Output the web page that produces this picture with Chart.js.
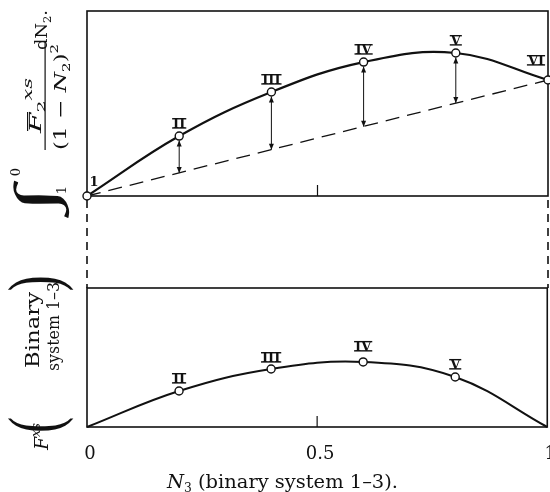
<!DOCTYPE html>
<html>
<head>
<meta charset="utf-8">
<script src="https://cdn.jsdelivr.net/npm/chart.js@4.4.0/dist/chart.umd.min.js"></script>
<style>
html, body { margin: 0; padding: 0; background: #fff; overflow: hidden; }
#wrap { position: relative; width: 550px; height: 492px; overflow: hidden; }
#wrap canvas { position: absolute; left: 0; top: 0; }
</style>
</head>
<body>
<div id="wrap">
  <canvas id="topChart" width="570" height="492"></canvas>
  <canvas id="bottomChart" width="570" height="492"></canvas>
</div>
<script>
// N3 positions of the measured mixtures (0 = pure 1, 1 = binary 1-3)
const n3 = [0, 0.2, 0.4, 0.6, 0.8, 1];
const pointNames = ['1', 'II', 'III', 'IV', 'V', 'VI'];

// upper panel: integral curve and the chord (dashed) from point 1 to VI
const integralValues = [0, 0.324, 0.562, 0.724, 0.773, 0.627];
const chordN = [0, 1];
const chordValues = [0, 0.627];
// arrows drop from the curve to the chord
const arrowN = [0.2, 0.4, 0.6, 0.8];
const arrowTop = [0.324, 0.562, 0.724, 0.773];
const arrowBottom = [0.124, 0.25, 0.375, 0.503];

// lower panel: F^xs of binary system 1-3
const binaryValues = [0, 0.259, 0.417, 0.468, 0.360, 0];
const binaryNames = ['', 'II', 'III', 'IV', 'V', ''];

const xTicks = [0, 0.5, 1];
const xTickLabels = ['0', '0.5', '1'];

const INK = '#111';
const SERIF = "'DejaVu Serif', serif";
const THIN = "'Liberation Serif', serif";
const bottomPanelTop = 288;

function pts(xs, ys) { return xs.map((x, i) => ({ x: x, y: ys[i] })); }

// draw a run of text pieces squeezed/stretched to a given width
function drawRun(ctx, parts, x0, width, baseline) {
    let total = 0;
    const ws = parts.map(p => { ctx.font = p.f; const w = ctx.measureText(p.t).width; total += w; return w; });
    ctx.save();
    ctx.translate(x0, baseline);
    ctx.scale(width / total, 1);
    let x = 0;
    parts.forEach((p, i) => { ctx.font = p.f; ctx.fillText(p.t, x, p.dy || 0); x += ws[i]; });
    ctx.restore();
}

// fit one glyph into a box
function fitGlyph(ctx, ch, font, x0, y0, x1, y1) {
    ctx.save();
    ctx.font = font;
    const m = ctx.measureText(ch);
    const gw = m.actualBoundingBoxLeft + m.actualBoundingBoxRight;
    const gh = m.actualBoundingBoxAscent + m.actualBoundingBoxDescent;
    ctx.translate(x0, y0);
    ctx.scale((x1 - x0) / gw, (y1 - y0) / gh);
    ctx.fillText(ch, m.actualBoundingBoxLeft, m.actualBoundingBoxAscent);
    ctx.restore();
}

function drawRoman(ctx, text, cx, base) {
    ctx.font = "bold 13px " + SERIF;
    ctx.textAlign = 'center';
    ctx.textBaseline = 'alphabetic';
    const w = ctx.measureText(text).width;
    ctx.fillText(text, cx, base);
    if (text !== '1') {
        ctx.fillRect(cx - w / 2 - 1, base - 10, w + 2, 1.4);
        ctx.fillRect(cx - w / 2 - 1, base - 0.8, w + 2, 1.4);
    }
}

function arrowHead(ctx, x, y, dir) {
    ctx.beginPath();
    ctx.moveTo(x, y);
    ctx.lineTo(x - 2.5, y - dir * 6);
    ctx.lineTo(x + 2.5, y - dir * 6);
    ctx.closePath();
    ctx.fill();
}

function drawBox(chart) {
    const ctx = chart.ctx, a = chart.chartArea;
    ctx.save();
    ctx.strokeStyle = INK;
    ctx.lineWidth = 1.6;
    ctx.strokeRect(a.left, a.top, a.right - a.left, a.bottom - a.top);
    // inward tick at 0.5
    const xm = chart.scales.x.getPixelForValue(0.5);
    ctx.lineWidth = 1.2;
    ctx.beginPath();
    ctx.moveTo(xm, a.bottom);
    ctx.lineTo(xm, a.bottom - 11);
    ctx.stroke();
    ctx.restore();
}

const topPlugin = {
    id: 'topDecor',
    beforeDatasetsDraw(chart) { drawBox(chart); },
    afterDatasetsDraw(chart) {
        const ctx = chart.ctx, a = chart.chartArea;
        const xs = chart.scales.x, ys = chart.scales.y;
        ctx.save();
        ctx.strokeStyle = INK;
        ctx.fillStyle = INK;

        // double-headed arrows curve -> chord
        ctx.lineWidth = 1;
        arrowN.forEach((n, i) => {
            const x = xs.getPixelForValue(n);
            const y0 = ys.getPixelForValue(arrowTop[i]) + 4.5;
            const y1 = ys.getPixelForValue(arrowBottom[i]);
            ctx.beginPath();
            ctx.moveTo(x, y0);
            ctx.lineTo(x, y1);
            ctx.stroke();
            arrowHead(ctx, x, y0, -1);
            arrowHead(ctx, x, y1, 1);
        });

        // point names
        const off = { 0: [7, -10], 5: [-12, -15] };
        n3.forEach((n, i) => {
            const o = off[i] || [0, -8];
            drawRoman(ctx, pointNames[i], xs.getPixelForValue(n) + o[0], ys.getPixelForValue(integralValues[i]) + o[1]);
        });

        // dashed connectors down to the lower panel
        ctx.lineWidth = 1.6;
        ctx.setLineDash([8, 6]);
        [0, 1].forEach(v => {
            const x = xs.getPixelForValue(v);
            ctx.beginPath();
            ctx.moveTo(x, a.bottom + 4);
            ctx.lineTo(x, bottomPanelTop);
            ctx.stroke();
        });
        ctx.setLineDash([]);

        // rotated y title: integral from 1 to 0 of F2xs/(1-N2)^2 dN2.
        ctx.rotate(-Math.PI / 2);
        ctx.textAlign = 'left';
        ctx.textBaseline = 'alphabetic';
        fitGlyph(ctx, '\u222B', "italic 60px " + THIN, -218, 13, -180, 70);
        ctx.textAlign = 'center';
        ctx.font = "13px " + SERIF;
        ctx.fillText('0', -172, 20);
        ctx.fillText('1', -190, 66);
        ctx.textAlign = 'left';
        drawRun(ctx, [
            { t: 'F', f: "italic 17px " + SERIF },
            { t: '2', f: "11px " + SERIF, dy: 4 },
            { t: 'xs', f: "italic 12px " + SERIF, dy: -9 }
        ], -133, 55, 41);
        ctx.fillRect(-131, 27, 19, 1.2);
        ctx.fillRect(-150, 44.5, 108, 1.2);
        drawRun(ctx, [
            { t: '(1 \u2212 ', f: "17px " + SERIF },
            { t: 'N', f: "italic 17px " + SERIF },
            { t: '2', f: "11px " + SERIF, dy: 4 },
            { t: ')', f: "17px " + SERIF },
            { t: '2', f: "11px " + SERIF, dy: -8 }
        ], -150, 106, 66);
        drawRun(ctx, [
            { t: 'dN', f: "17px " + SERIF },
            { t: '2', f: "11px " + SERIF, dy: 4 },
            { t: '.', f: "17px " + SERIF }
        ], -50, 40, 47);
        ctx.restore();
    }
};

const bottomPlugin = {
    id: 'bottomDecor',
    beforeDatasetsDraw(chart) { drawBox(chart); },
    afterDatasetsDraw(chart) {
        const ctx = chart.ctx;
        const xs = chart.scales.x, ys = chart.scales.y;
        ctx.save();
        ctx.fillStyle = INK;
        const off = { 3: [0, -11], 2: [0, -7] };
        n3.forEach((n, i) => {
            if (!binaryNames[i]) return;
            const o = off[i] || [0, -8];
            drawRoman(ctx, binaryNames[i], xs.getPixelForValue(n) + o[0], ys.getPixelForValue(binaryValues[i]) + o[1]);
        });

        // x title
        ctx.textAlign = 'left';
        ctx.textBaseline = 'alphabetic';
        drawRun(ctx, [
            { t: 'N', f: "italic 19px " + SERIF },
            { t: '3', f: "12px " + SERIF, dy: 4 },
            { t: ' (binary system 1\u20133).', f: "19px " + SERIF }
        ], 167, 231, 488);

        // rotated y title: F^xs (Binary system 1-3)
        ctx.rotate(-Math.PI / 2);
        drawRun(ctx, [
            { t: 'F', f: "italic 19px " + SERIF },
            { t: 'xs', f: "italic 13px " + SERIF, dy: -8 }
        ], -450, 27, 48);
        fitGlyph(ctx, '(', "80px " + THIN, -431, 8, -418, 74);
        fitGlyph(ctx, ')', "80px " + THIN, -290, 8, -277, 74);
        drawRun(ctx, [{ t: 'Binary', f: "19px " + SERIF }], -368, 76, 39);
        drawRun(ctx, [{ t: 'system 1\u20133', f: "17px " + SERIF }], -371, 89, 59);
        ctx.restore();
    }
};

const circlePoint = {
    pointStyle: 'circle',
    pointBackgroundColor: '#fff',
    pointBorderColor: INK,
    pointBorderWidth: 1.4
};

new Chart(document.getElementById('topChart').getContext('2d'), {
    type: 'line',
    data: {
        datasets: [{
            label: 'integral',
            data: pts(n3, integralValues),
            borderColor: INK,
            borderWidth: 2.2,
            tension: 0.4,
            pointRadius: 4,
            ...circlePoint,
            clip: false,
            order: 0
        }, {
            label: 'chord',
            data: pts(chordN, chordValues),
            borderColor: INK,
            borderWidth: 1.3,
            borderDash: [14, 8],
            pointRadius: 0,
            clip: false,
            order: 1
        }]
    },
    options: {
        responsive: false,
        animation: false,
        layout: { padding: { left: 87, top: 11, right: 22, bottom: 296 } },
        plugins: { legend: { display: false }, tooltip: { enabled: false } },
        scales: {
            x: { type: 'linear', min: 0, max: 1, display: false },
            y: { min: 0, max: 1, display: false }
        }
    },
    plugins: [topPlugin]
});

new Chart(document.getElementById('bottomChart').getContext('2d'), {
    type: 'line',
    data: {
        datasets: [{
            label: 'binary 1-3',
            data: pts(n3, binaryValues),
            borderColor: INK,
            borderWidth: 2,
            tension: 0.4,
            pointRadius: binaryNames.map(s => s ? 4 : 0),
            ...circlePoint,
            clip: false
        }]
    },
    options: {
        responsive: false,
        animation: false,
        layout: { padding: { left: 87, top: bottomPanelTop, right: 22, bottom: 0 } },
        plugins: { legend: { display: false }, tooltip: { enabled: false } },
        scales: {
            x: {
                type: 'linear', min: 0, max: 1,
                afterBuildTicks: s => { s.ticks = xTicks.map(v => ({ value: v })); },
                afterFit: s => { s.height = 65; },
                ticks: {
                    callback: (v, i) => xTickLabels[i],
                    font: { family: 'DejaVu Serif', size: 18 },
                    color: INK,
                    padding: 17,
                    labelOffset: 3,
                    maxRotation: 0
                },
                grid: { display: false, drawTicks: false },
                border: { display: false }
            },
            y: { min: 0, max: 1, display: false }
        }
    },
    plugins: [bottomPlugin]
});
</script>
</body>
</html>
